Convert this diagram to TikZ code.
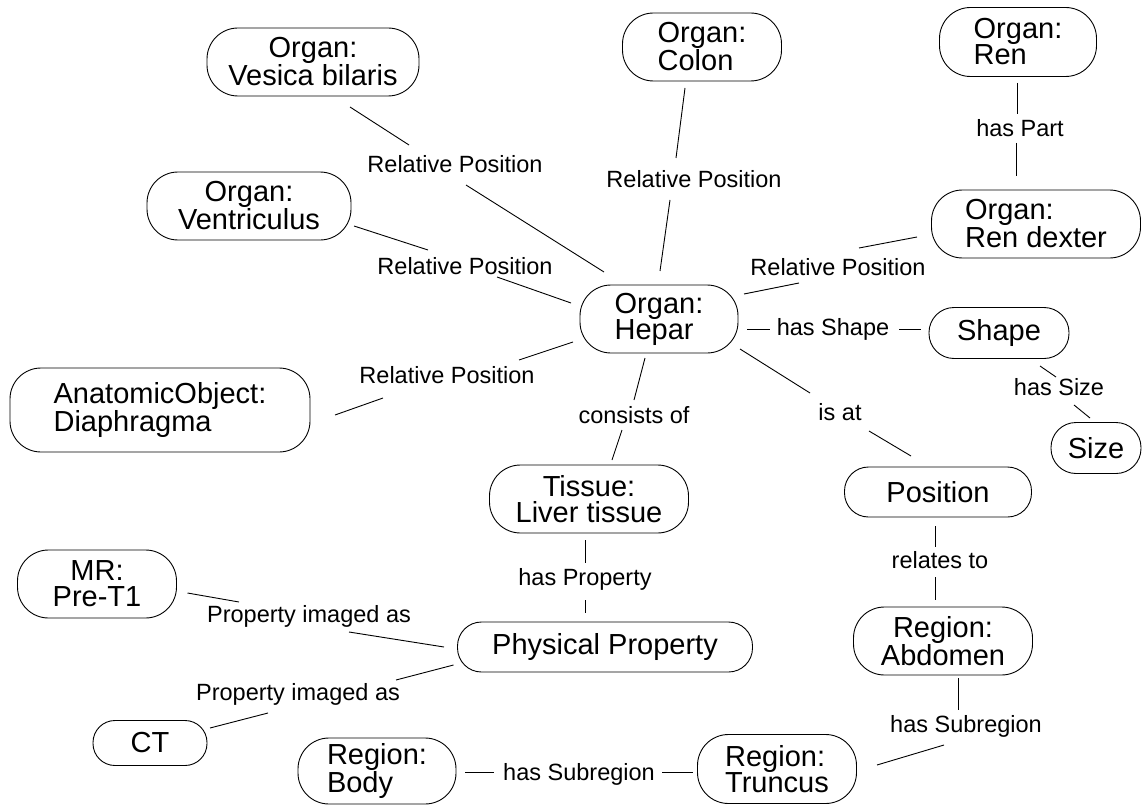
\documentclass[tikz,border=0pt]{standalone}
\usepackage{fontspec}
\setmainfont{Liberation Sans}
\tikzset{
 obj/.style={draw, line width=0.9pt, rounded corners=#1, inner sep=0pt, font=\fontsize{29}{26}\selectfont},
 obj/.default=31pt,
 rel/.style={inner sep=0pt, anchor=base, font=\fontsize{23.5}{26}\selectfont},
 con/.style={line width=0.9pt},
}
\begin{document}
\begin{tikzpicture}[x=1pt,y=-1pt]
\path[use as bounding box, fill=white] (0,0) rectangle (1142,805);
% objects
\node[obj, minimum width=212pt, minimum height=68pt, align=center] (ves) at (313,62) {Organ:\\Vesica bilaris};
\node[obj, minimum width=159pt, minimum height=68pt, align=left] (col) at (702,47) {Organ:\\Colon};
\node[obj, minimum width=157pt, minimum height=69pt, align=left] (ren) at (1018,42) {Organ:\\Ren};
\node[obj, minimum width=209pt, minimum height=68pt, align=left] (rdx) at (1036,224) {Organ:\\Ren dexter};
\node[obj, minimum width=204pt, minimum height=68pt, align=center] (ven) at (249,206) {Organ:\\Ventriculus};
\node[obj, minimum width=158pt, minimum height=68pt, align=left] (hep) at (659,319) {Organ:\\Hepar};
\node[obj, minimum width=300pt, minimum height=84pt, align=left] (dia) at (160,410) {AnatomicObject:\\Diaphragma};
\node[obj=25pt, minimum width=140pt, minimum height=51pt] (shp) at (999,333) {Shape};
\node[obj=25pt, minimum width=90pt, minimum height=51pt] (siz) at (1096,448) {Size};
\node[obj, minimum width=199pt, minimum height=68pt, align=center] (tis) at (589,499) {Tissue:\\Liver tissue};
\node[obj=24pt, minimum width=187pt, minimum height=50pt] (pos) at (938,492) {Position};
\node[obj, minimum width=179pt, minimum height=68pt, align=center] (abd) at (943,641) {Region:\\Abdomen};
\node[obj=24pt, minimum width=295pt, minimum height=50pt] (phy) at (605,647) {Physical Property};
\node[obj, minimum width=159pt, minimum height=68pt, align=center] (mr) at (97,584) {MR:\\Pre-T1};
\node[obj=22pt, minimum width=114pt, minimum height=45pt] (ct) at (150,743) {CT};
\node[obj, minimum width=158pt, minimum height=66pt, align=left] (bod) at (377,771) {Region:\\Body};
\node[obj, minimum width=159pt, minimum height=69pt, align=left] (tru) at (777,769) {Region:\\Truncus};
% relation labels
\node[rel] (l1) at (455,172) {Relative Position};
\node[rel] (l2) at (694,187) {Relative Position};
\node[rel] (l3) at (1020,137) {has Part};
\node[rel] (l4) at (838,275) {Relative Position};
\node[rel] (l5) at (833,335) {has Shape};
\node[rel] (l6) at (1059,395) {has Size};
\node[rel] (l7) at (634,423) {consists of};
\node[rel] (l8) at (840,420) {is at};
\node[rel] (l9) at (940,568) {relates to};
\node[rel] (l10) at (966,732) {has Subregion};
\node[rel] (l11) at (579,780) {has Subregion};
\node[rel] (l12) at (585,585) {has Property};
\node[rel] (l13) at (309,622) {Property imaged as};
\node[rel] (l14) at (298,700) {Property imaged as};
\node[rel] (l15) at (447,383) {Relative Position};
\node[rel] (l16) at (465,274) {Relative Position};
% connectors
\draw[con] ([shift={(37,45)}]ves.center) -- ([shift={(-46,-27)}]l1.base);
\draw[con] ([shift={(11,13)}]l1.base) -- ([shift={(-55,-47)}]hep.center);
\draw[con] ([shift={(-17,41)}]col.center) -- ([shift={(-18,-29)}]l2.base);
\draw[con] ([shift={(-24,13)}]l2.base) -- ([shift={(1,-48)}]hep.center);
\draw[con] ([shift={(-1,41)}]ren.center) -- ([shift={(-3,-23)}]l3.base);
\draw[con] ([shift={(-4,6)}]l3.base) -- ([shift={(-20,-48)}]rdx.center);
\draw[con] ([shift={(-119,13)}]rdx.center) -- ([shift={(21,-27)}]l4.base);
\draw[con] ([shift={(-39,8)}]l4.base) -- ([shift={(85,-25)}]hep.center);
\draw[con] ([shift={(88,10)}]hep.center) -- ([shift={(-63,-6)}]l5.base);
\draw[con] ([shift={(66,-6)}]l5.base) -- ([shift={(-78,-4)}]shp.center);
\draw[con] ([shift={(41,33)}]shp.center) -- ([shift={(-3,-18)}]l6.base);
\draw[con] ([shift={(15,10)}]l6.base) -- ([shift={(-6,-30)}]siz.center);
\draw[con] ([shift={(-14,39)}]hep.center) -- ([shift={(0,-23)}]l7.base);
\draw[con] ([shift={(-12,7)}]l7.base) -- ([shift={(23,-39)}]tis.center);
\draw[con] ([shift={(81,30)}]hep.center) -- ([shift={(-30,-27)}]l8.base);
\draw[con] ([shift={(29,11)}]l8.base) -- ([shift={(-27,-36)}]pos.center);
\draw[con] ([shift={(-3,34)}]pos.center) -- ([shift={(-5,-21)}]l9.base);
\draw[con] ([shift={(-5,9)}]l9.base) -- ([shift={(-8,-41)}]abd.center);
\draw[con] ([shift={(15,37)}]abd.center) -- ([shift={(-8,-22)}]l10.base);
\draw[con] ([shift={(-22,13)}]l10.base) -- ([shift={(100,-4)}]tru.center);
\draw[con] ([shift={(88,1)}]bod.center) -- ([shift={(-85,-8)}]l11.base);
\draw[con] ([shift={(83,-8)}]l11.base) -- ([shift={(-84,3)}]tru.center);
\draw[con] ([shift={(-3.5,41)}]tis.center) -- ([shift={(0.5,-22)}]l12.base);
\draw[con] ([shift={(0,15)}]l12.base) -- ([shift={(-20,-34)}]phy.center);
\draw[con] ([shift={(90.5,9)}]mr.center) -- ([shift={(-70,-20)}]l13.base);
\draw[con] ([shift={(40,10)}]l13.base) -- ([shift={(-161,0)}]phy.center);
\draw[con] ([shift={(-151.5,18)}]phy.center) -- ([shift={(98,-20)}]l14.base);
\draw[con] ([shift={(-30,13)}]l14.base) -- ([shift={(60,-15)}]ct.center);
\draw[con] ([shift={(175,5)}]dia.center) -- ([shift={(-64,15)}]l15.base);
\draw[con] ([shift={(72,-23)}]l15.base) -- ([shift={(-86,23)}]hep.center);
\draw[con] ([shift={(105,20)}]ven.center) -- ([shift={(-37,-24)}]l16.base);
\draw[con] ([shift={(32,3)}]l16.base) -- ([shift={(-88,-16)}]hep.center);
\end{tikzpicture}
\end{document}
